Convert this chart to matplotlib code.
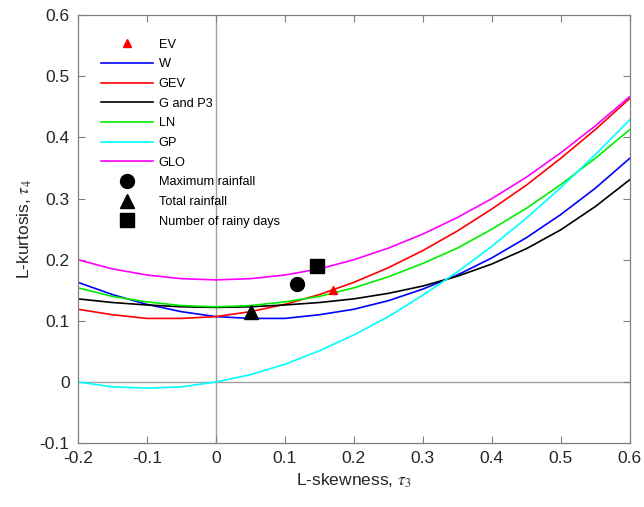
import matplotlib.pyplot as plt
import numpy as np

plt.rcParams['font.family'] = ['Liberation Sans', 'DejaVu Sans']
plt.rcParams['mathtext.fontset'] = 'stix'

# L-skewness grid and L-kurtosis of each distribution curve
tau3 = [-0.2, -0.15, -0.1, -0.05, 0.0, 0.05, 0.1, 0.15, 0.2,
        0.25, 0.3, 0.35, 0.4, 0.45, 0.5, 0.55, 0.6]

w_tau4 = [0.163, 0.143, 0.127, 0.115, 0.107, 0.104, 0.104, 0.110, 0.119,
          0.133, 0.152, 0.175, 0.203, 0.236, 0.274, 0.317, 0.366]
gev_tau4 = [0.119, 0.110, 0.104, 0.104, 0.107, 0.115, 0.127, 0.143, 0.163,
            0.187, 0.215, 0.247, 0.283, 0.322, 0.366, 0.413, 0.464]
p3_tau4 = [0.136, 0.130, 0.126, 0.123, 0.122, 0.123, 0.126, 0.130, 0.136,
           0.145, 0.157, 0.173, 0.193, 0.218, 0.249, 0.287, 0.331]
ln_tau4 = [0.154, 0.140, 0.131, 0.125, 0.123, 0.125, 0.131, 0.140, 0.154,
           0.172, 0.194, 0.219, 0.250, 0.284, 0.323, 0.366, 0.413]
gp_tau4 = [0.000, -0.008, -0.010, -0.008, 0.000, 0.012, 0.029, 0.051, 0.077,
           0.107, 0.142, 0.180, 0.222, 0.268, 0.318, 0.372, 0.429]
glo_tau4 = [0.200, 0.185, 0.175, 0.169, 0.167, 0.169, 0.175, 0.185, 0.200,
            0.219, 0.242, 0.269, 0.300, 0.335, 0.375, 0.419, 0.467]

# EV (Gumbel) point and sample L-moment ratios
ev_point = (0.170, 0.150)
max_rain = (0.117, 0.160)
total_rain = (0.051, 0.114)
rainy_days = (0.146, 0.189)

fig = plt.figure(figsize=(6.44, 5.07), dpi=100)
ax = fig.add_axes([0.121, 0.126, 0.857, 0.844])

ax.axvline(0, color='#a0a0a0', lw=1.0, zorder=1)
ax.axhline(0, color='#a0a0a0', lw=1.0, zorder=1)

ax.plot(*ev_point, '^', color='red', ms=6, ls='none', label='EV', zorder=4)
ax.plot(tau3, w_tau4, color='#0000ff', lw=1.2, label='W')
ax.plot(tau3, gev_tau4, color='#ff0000', lw=1.2, label='GEV')
ax.plot(tau3, p3_tau4, color='black', lw=1.2, label='G and P3')
ax.plot(tau3, ln_tau4, color='#00ee00', lw=1.2, label='LN')
ax.plot(tau3, gp_tau4, color='#00ffff', lw=1.2, label='GP')
ax.plot(tau3, glo_tau4, color='#ff00ff', lw=1.2, label='GLO')
ax.plot(*max_rain, 'o', color='black', ms=10, ls='none', label='Maximum rainfall', zorder=5)
ax.plot(*total_rain, '^', color='black', ms=10, ls='none', label='Total rainfall', zorder=5)
ax.plot(*rainy_days, 's', color='black', ms=10, ls='none', label='Number of rainy days', zorder=5)

ax.set_xlim(-0.2, 0.6)
ax.set_ylim(-0.1, 0.6)
ax.set_xticks(np.arange(-0.2, 0.61, 0.1))
ax.set_yticks(np.arange(-0.1, 0.61, 0.1))
ax.set_xticklabels(['-0.2', '-0.1', '0', '0.1', '0.2', '0.3', '0.4', '0.5', '0.6'])
ax.set_yticklabels(['-0.1', '0', '0.1', '0.2', '0.3', '0.4', '0.5', '0.6'])
ax.tick_params(direction='in', top=True, right=True, length=5, width=0.8,
               color='#808080', labelcolor='#262626', labelsize=12.5, pad=6)
for s in ax.spines.values():
    s.set_color('#808080')
    s.set_linewidth(0.9)

ax.set_xlabel(r'L-skewness, $\tau_3$', fontsize=12.5, color='#262626')
ax.set_ylabel(r'L-kurtosis, $\tau_4$', fontsize=12.5, color='#262626')

ax.legend(loc='upper left', bbox_to_anchor=(0.042, 0.945), frameon=False,
          fontsize=9.2, handlelength=4.1, labelspacing=0.6, handletextpad=0.4,
          borderpad=0, borderaxespad=0)

fig.savefig('out.png', dpi=100)
